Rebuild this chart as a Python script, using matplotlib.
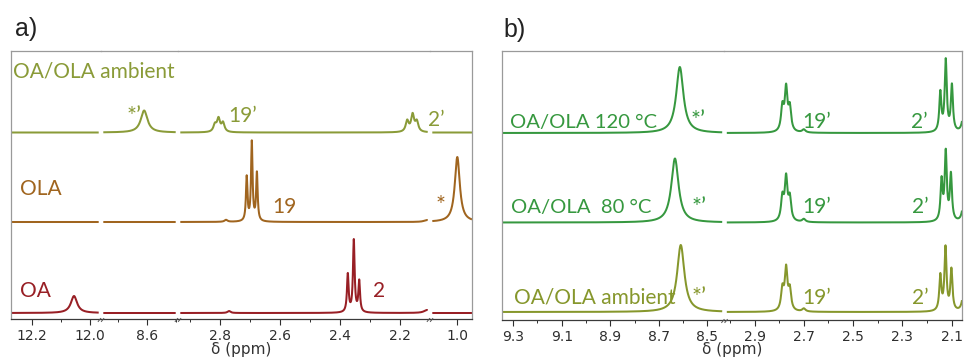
import numpy as np
import matplotlib.pyplot as plt
from matplotlib.lines import Line2D

# ---- spectra: peak centres (ppm), heights, half widths (ppm) ----
# panel a
oa_ppm = [12.055, 2.77, 2.374, 2.354, 2.336, 2.11]
oa_height = [17, 2, 38, 72, 31, 3]
oa_hwhm = [0.013, 0.006, 0.0033, 0.0033, 0.0033, 0.012]

ola_ppm = [2.78, 2.711, 2.694, 2.677, 0.999, 2.11]
ola_height = [2, 44, 79, 48, 65, 2]
ola_hwhm = [0.006, 0.003, 0.003, 0.003, 0.01, 0.012]

mix_amb_a_ppm = [8.61, 2.817, 2.805, 2.79, 2.176, 2.158, 2.144]
mix_amb_a_height = [22, 7, 13, 9, 11, 17, 10]
mix_amb_a_hwhm = [0.014, 0.006, 0.006, 0.006, 0.006, 0.006, 0.006]

# panel b
mix_120_ppm = [8.614, 2.787, 2.772, 2.757, 2.70, 2.146, 2.124, 2.099, 2.05]
mix_120_height = [66, 24, 42, 23, 3, 39, 71, 46, 25]
mix_120_hwhm = [0.018, 0.0065, 0.0065, 0.0065, 0.008, 0.005, 0.005, 0.005, 0.007]

mix_80_ppm = [8.634, 2.787, 2.772, 2.757, 2.70, 2.141, 2.124, 2.103, 2.05]
mix_80_height = [64, 23, 42, 22, 3, 40, 68, 46, 25]
mix_80_hwhm = [0.018, 0.0065, 0.0065, 0.0065, 0.008, 0.005, 0.005, 0.005, 0.007]

mix_amb_b_ppm = [8.61, 2.787, 2.772, 2.757, 2.70, 2.146, 2.125, 2.101, 2.05]
mix_amb_b_height = [67, 21, 41, 20, 3, 35, 63, 41, 25]
mix_amb_b_hwhm = [0.018, 0.0065, 0.0065, 0.0065, 0.008, 0.005, 0.005, 0.005, 0.007]

# broken x axes: ppm ranges of each piece
segments_a = [(12.272, 11.962), (8.759, 8.493), (2.94, 2.10), (1.09, 0.95)]
segments_b = [(9.346, 8.43), (3.022, 2.058)]
major_a = [[12.2, 12.0], [8.6], [2.8, 2.6, 2.4, 2.2], [1.0]]
minor_a = [[12.1], [8.7, 8.5], [2.9, 2.7, 2.5, 2.3], []]
major_b = [[9.3, 9.1, 8.9, 8.7, 8.5], [2.9, 2.7, 2.5, 2.3, 2.1]]
minor_b = [[9.2, 9.0, 8.8, 8.6], [3.0, 2.8, 2.6, 2.4, 2.2]]

OLIVE = "#8a9b38"
BROWN = "#a0651f"
RED = "#981f25"
GREEN = "#36983f"
OLIVE_B = "#86972c"

W, H = 965, 358
fig = plt.figure(figsize=(W / 100, H / 100), dpi=100)


def lorentz_sum(x, pos, height, hwhm):
    y = np.zeros_like(x)
    for p, h, w in zip(pos, height, hwhm):
        y += h * w ** 2 / ((x - p) ** 2 + w ** 2)
    return y


def px_line(xs, ys, **kw):
    # line given in figure pixels (y measured from the top)
    fig.add_artist(Line2D([x / W for x in xs], [1 - y / H for y in ys],
                          transform=fig.transFigure, **kw))


def make_panel(px_edges, y_top, y_bot, segments, majors, minors, spectra):
    axes = []
    n = len(segments)
    for i, (lo_hi, mj, mn) in enumerate(zip(segments, majors, minors)):
        xl, xr = px_edges[i], px_edges[i + 1]
        ax = fig.add_axes([xl / W, 1 - y_bot / H, (xr - xl) / W, (y_bot - y_top) / H])
        ax.set_xlim(*lo_hi)
        ax.set_ylim(0, y_bot - y_top)
        scale = (xr - xl) / abs(lo_hi[0] - lo_hi[1])
        gap = 2.3 / scale
        a = lo_hi[0] - (gap if i > 0 else 0)
        b = lo_hi[1] + (gap if i < n - 1 else 0)
        x = np.linspace(a, b, 3000)
        for base, pos, hts, wid, col in spectra:
            ax.plot(x, base + lorentz_sum(x, pos, hts, wid), color=col, lw=1.45,
                    solid_capstyle="butt")
        ax.set_xticks(mj)
        ax.set_xticks(mn, minor=True)
        ax.set_xticklabels([f"{v:.1f}" for v in mj])
        ax.set_yticks([])
        ax.tick_params(axis="x", which="major", length=4, width=0.8, pad=3,
                       labelsize=10, colors="#2e2e2e")
        ax.tick_params(axis="x", which="minor", length=2, width=0.7, colors="#2e2e2e")
        for s in ("top", "left", "right"):
            ax.spines[s].set_color("#9a9a9a")
            ax.spines[s].set_linewidth(0.9)
        ax.spines["bottom"].set_color("#3a3a3a")
        ax.spines["bottom"].set_linewidth(0.9)
        ax.spines["left"].set_visible(i == 0)
        ax.spines["right"].set_visible(i == n - 1)
        ax.patch.set_alpha(0)
        if i > 0:
            # small break marks just under the axis line
            for dx in (-1.6, 1.6):
                px_line([xl + dx - 1.2, xl + dx + 1.2], [y_bot + 2.5, y_bot - 0.5],
                        color="#555555", lw=0.7)
        axes.append(ax)
    return axes


spectra_a = [
    (186.5, mix_amb_a_ppm, mix_amb_a_height, mix_amb_a_hwhm, OLIVE),
    (97, ola_ppm, ola_height, ola_hwhm, BROWN),
    (6, oa_ppm, oa_height, oa_hwhm, RED),
]
spectra_b = [
    (187, mix_120_ppm, mix_120_height, mix_120_hwhm, GREEN),
    (97.5, mix_80_ppm, mix_80_height, mix_80_hwhm, GREEN),
    (8, mix_amb_b_ppm, mix_amb_b_height, mix_amb_b_hwhm, OLIVE_B),
]

make_panel([11, 101, 178, 430, 472], 51, 319, segments_a, major_a, minor_a, spectra_a)
make_panel([502, 724.5, 962], 51, 320, segments_b, major_b, minor_b, spectra_b)


def label(x, y, s, color, size=15):
    fig.text(x / W, 1 - y / H, s, color=color, fontsize=size, family="Lato",
             ha="left", va="baseline")


def star(x, y, s, color):
    # asterisk labels are set a little larger
    label(x, y, s, color, size=17)


# panel a labels
label(13, 77.5, "OA/OLA ambient", OLIVE)
star(127, 123, "*\u2019", OLIVE)
label(228, 121.7, "19\u2019", OLIVE)
label(428, 126, "2\u2019", OLIVE)
label(20, 195, "OLA", BROWN)
label(272, 213.3, "19", BROWN)
star(436, 212, "*", BROWN)
label(20, 296.7, "OA", RED)
label(373, 296.7, "2", RED)

# panel b labels
label(510, 127.7, "OA/OLA 120 \u00b0C", GREEN, size=14.6)
star(691, 127, "*\u2019", GREEN)
label(802, 127.7, "19\u2019", GREEN)
label(911, 127.7, "2\u2019", GREEN)
label(511, 213.3, "OA/OLA  80 \u00b0C", GREEN, size=14.6)
star(692, 214, "*\u2019", GREEN)
label(802, 213.3, "19\u2019", GREEN)
label(912, 213.3, "2\u2019", GREEN)
label(514, 304, "OA/OLA ambient", OLIVE_B)
star(692, 304, "*\u2019", OLIVE_B)
label(802, 304, "19\u2019", OLIVE_B)
label(912, 304, "2\u2019", OLIVE_B)

# panel letters and axis titles
fig.text(15 / W, 1 - 36 / H, "a)", fontsize=18, family="Liberation Sans",
         va="baseline", ha="left", color="#222222")
fig.text(503 / W, 1 - 36.5 / H, "b)", fontsize=18, family="Liberation Sans",
         va="baseline", ha="left", color="#222222")
fig.text(241.5 / W, 1 - 354 / H, "\u03b4 (ppm)", fontsize=11, ha="center",
         va="baseline", color="#333333")
fig.text(732 / W, 1 - 354 / H, "\u03b4 (ppm)", fontsize=11, ha="center",
         va="baseline", color="#333333")

fig.savefig("out.png", dpi=100)
